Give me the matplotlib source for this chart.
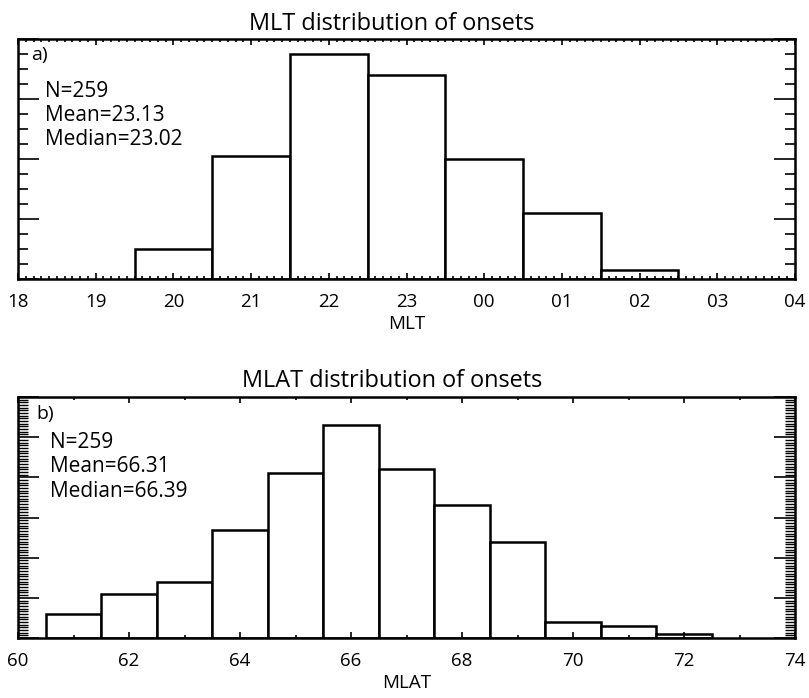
import matplotlib
matplotlib.use("Agg")
import matplotlib.pyplot as plt
from matplotlib.ticker import MultipleLocator
import numpy as np

plt.rcParams['font.family'] = ['Open Sans', 'DejaVu Sans']

# ---- data ----
mlt_centers = [20, 21, 22, 23, 24, 25, 26]
mlt_counts = [10, 41, 75, 68, 40, 22, 3]
mlt_tick_pos = [18, 19, 20, 21, 22, 23, 24, 25, 26, 27, 28]
mlt_tick_labels = ["18", "19", "20", "21", "22", "23", "00", "01", "02", "03", "04"]

mlat_centers = [61, 62, 63, 64, 65, 66, 67, 68, 69, 70, 71, 72]
mlat_counts = [6, 11, 14, 27, 41, 53, 42, 33, 24, 4, 3, 1]
mlat_tick_pos = [60, 62, 64, 66, 68, 70, 72, 74]
mlat_tick_labels = ["60", "62", "64", "66", "68", "70", "72", "74"]

stats_a = ["N=259", "Mean=23.13", "Median=23.02"]
stats_b = ["N=259", "Mean=66.31", "Median=66.39"]

W, H = 809, 698
fig = plt.figure(figsize=(W / 100, H / 100), dpi=100)

def axes_px(l, t, r, b):
    return fig.add_axes([l / W, 1 - b / H, (r - l) / W, (b - t) / H])

ax1 = axes_px(18, 39, 795, 279)
ax2 = axes_px(18, 397, 795, 638)

def px_text(x, y, s, size, ha='left'):
    # x, y in figure pixels (y = baseline)
    fig.text(x / W, 1 - y / H, s, fontsize=size, ha=ha, va='baseline')

lw = 1.8
for ax in (ax1, ax2):
    for s in ax.spines.values():
        s.set_linewidth(lw)
    ax.tick_params(which='both', direction='in', top=True, right=True,
                   labelleft=False, width=1.2, colors='black')
    ax.tick_params(axis='x', labelsize=13.5, pad=10)

# top panel
ax1.bar(mlt_centers, mlt_counts, width=1.0, facecolor='white',
        edgecolor='black', linewidth=lw)
ax1.set_xlim(18, 28)
ax1.set_ylim(0, 80)
ax1.set_xticks(mlt_tick_pos)
ax1.set_xticklabels(mlt_tick_labels)
ax1.xaxis.set_minor_locator(MultipleLocator(0.1))
ax1.yaxis.set_major_locator(MultipleLocator(20))
ax1.yaxis.set_minor_locator(MultipleLocator(5))
ax1.tick_params(axis='x', which='major', length=4)
ax1.tick_params(axis='x', which='minor', length=2)
ax1.tick_params(axis='y', which='major', length=15)
ax1.tick_params(axis='y', which='minor', length=7)
ax1.set_xlabel("MLT", fontsize=13.5, labelpad=3)
px_text(392, 29.5, "MLT distribution of onsets", 16.9, ha='center')
px_text(31, 60, "a)", 14)
for i, s in enumerate(stats_a):
    px_text(45, 97 + i * 24, s, 15)

# bottom panel
ax2.bar(mlat_centers, mlat_counts, width=1.0, facecolor='white',
        edgecolor='black', linewidth=lw)
ax2.set_xlim(60, 74)
ax2.set_ylim(0, 60)
ax2.set_xticks(mlat_tick_pos)
ax2.set_xticklabels(mlat_tick_labels)
ax2.xaxis.set_minor_locator(MultipleLocator(1))
ax2.yaxis.set_major_locator(MultipleLocator(10))
ax2.yaxis.set_minor_locator(MultipleLocator(10 / 15))
ax2.tick_params(axis='x', which='major', length=4)
ax2.tick_params(axis='x', which='minor', length=2)
ax2.tick_params(axis='y', which='major', length=15)
ax2.tick_params(axis='y', which='minor', length=7, width=1.0)
ax2.set_xlabel("MLAT", fontsize=13.5, labelpad=3)
px_text(392, 387.5, "MLAT distribution of onsets", 16.9, ha='center')
px_text(36, 419, "b)", 14)
for i, s in enumerate(stats_b):
    px_text(50, 448 + i * 24.5, s, 15)

fig.savefig("out.png", dpi=100)
